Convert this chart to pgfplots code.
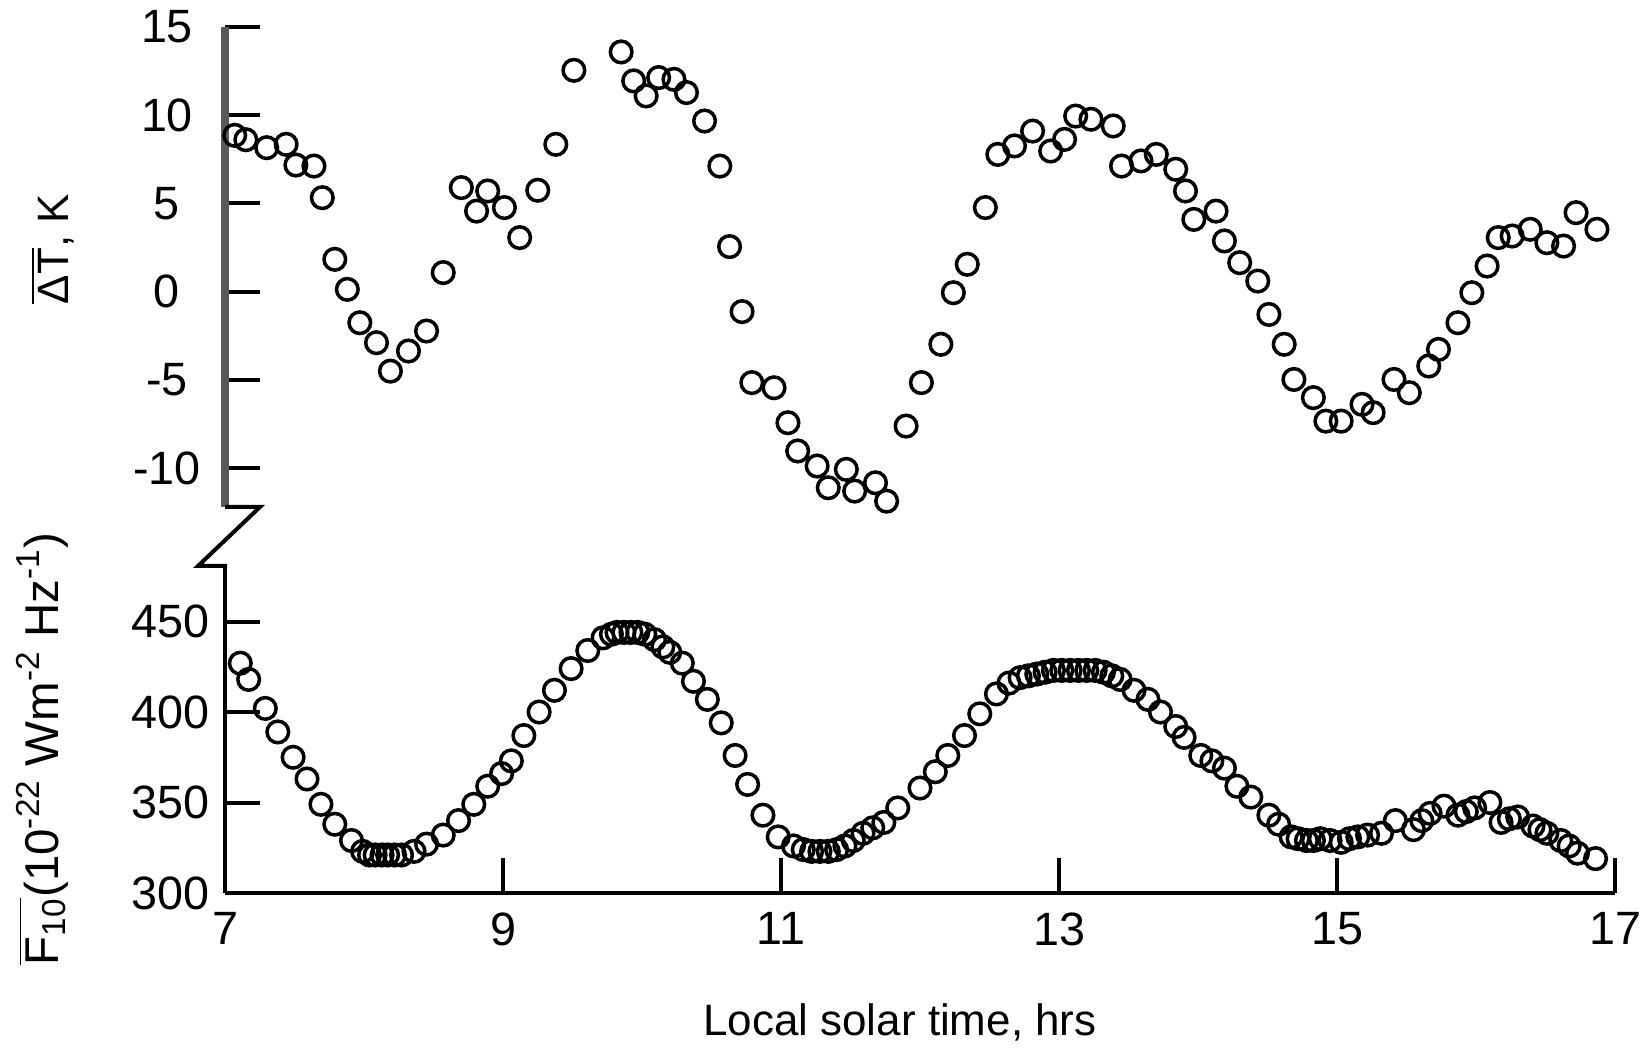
\documentclass[border=0pt]{standalone}
\usepackage{fontspec}
\setmainfont{Liberation Sans}
\usepackage{pgfplots}
\pgfplotsset{compat=1.18}
\usepackage{pgfplotstable}

\pgfplotstableread{
h v
7.07 8.85
7.15 8.60
7.30 8.15
7.44 8.34
7.51 7.17
7.64 7.11
7.70 5.32
7.79 1.83
7.88 0.13
7.97 -1.76
8.09 -2.89
8.19 -4.50
8.32 -3.36
8.45 -2.23
8.57 1.08
8.70 5.89
8.81 4.56
8.89 5.70
9.01 4.76
9.12 3.06
9.25 5.74
9.38 8.34
9.51 12.53
9.85 13.57
9.94 11.93
10.03 11.08
10.12 12.12
10.23 12.02
10.32 11.27
10.45 9.66
10.56 7.11
10.63 2.55
10.72 -1.13
10.79 -5.15
10.95 -5.44
11.05 -7.42
11.12 -9.02
11.26 -9.87
11.34 -11.10
11.47 -10.06
11.53 -11.29
11.68 -10.82
11.76 -11.86
11.90 -7.61
12.01 -5.15
12.15 -2.98
12.24 -0.06
12.34 1.55
12.47 4.76
12.56 7.77
12.68 8.25
12.81 9.09
12.94 7.96
13.04 8.62
13.12 9.94
13.23 9.76
13.39 9.38
13.45 7.11
13.59 7.40
13.70 7.77
13.84 6.93
13.91 5.70
13.97 4.09
14.13 4.56
14.19 2.87
14.30 1.64
14.43 0.60
14.51 -1.29
14.62 -2.98
14.69 -4.97
14.83 -6.00
14.92 -7.33
15.03 -7.33
15.18 -6.38
15.26 -6.85
15.41 -4.97
15.52 -5.72
15.66 -4.21
15.73 -3.27
15.87 -1.76
15.97 -0.06
16.08 1.45
16.16 3.06
16.26 3.15
16.39 3.53
16.51 2.77
16.63 2.58
16.72 4.47
16.87 3.53
}\dTdata

\pgfplotstableread{
h v
7.11 427
7.17 418
7.29 402
7.38 389
7.49 375
7.59 363
7.69 349
7.79 338
7.91 329
7.99 323
8.04 321
8.08 321
8.13 321
8.17 321
8.22 321
8.27 321
8.36 323
8.45 327
8.57 332
8.68 340
8.79 349
8.89 359
8.99 366
9.06 373
9.15 387
9.26 400
9.37 412
9.49 424
9.61 434
9.72 441
9.78 443
9.82 444
9.87 444
9.92 444
9.97 444
10.02 443
10.09 440
10.15 436
10.20 433
10.29 427
10.37 417
10.47 407
10.57 394
10.67 376
10.76 360
10.87 343
10.98 331
11.09 326
11.16 324
11.22 323
11.28 323
11.34 323
11.40 324
11.46 326
11.52 329
11.59 333
11.66 336
11.74 339
11.84 347
12.00 358
12.11 367
12.20 376
12.32 387
12.43 399
12.55 410
12.64 416
12.72 419
12.78 420
12.84 421
12.90 422
12.96 423
13.02 423
13.08 423
13.14 423
13.20 423
13.26 423
13.32 422
13.38 420
13.44 418
13.54 412
13.64 407
13.73 400
13.84 392
13.90 386
14.02 376
14.10 373
14.19 369
14.28 359
14.38 353
14.51 343
14.58 338
14.67 331
14.72 330
14.78 329
14.83 329
14.88 330
14.95 329
15.03 328
15.09 330
15.15 331
15.22 332
15.32 333
15.42 340
15.55 335
15.61 340
15.67 344
15.77 348
15.87 343
15.93 345
15.99 347
16.10 350
16.18 339
16.24 341
16.30 342
16.41 337
16.46 335
16.51 333
16.61 329
16.67 326
16.73 322
16.86 319
}\Fdata

\begin{document}
\begin{tikzpicture}
\useasboundingbox (0,0) rectangle (163.9mm,104.8mm);
\pgfplotsset{
  every axis/.append style={
    scale only axis, width=139mm, xmin=7, xmax=17, clip=false,
    major tick length=3.5mm,
    every tick/.append style={black, line width=0.4mm},
    /pgf/number format/assume math mode=true,
    tick label style={font=\fontsize{13.3}{16}\selectfont},
    yticklabel style={anchor=east, inner sep=0pt, xshift=-1.5mm},
    xticklabel style={anchor=north, inner sep=0pt, yshift=-1.9mm},
    label style={font=\fontsize{12.5}{15}\selectfont, inner sep=0pt},
  },
}
% top axis: Delta T
\begin{axis}[
  at={(22.5mm,54.1mm)}, anchor=south west,
  height=48.03mm, ymin=-12.19, ymax=15,
  axis x line=none, axis y line*=left, tick align=inside,
  y axis line style={line width=0.85mm, black!65},
  ytick={-10,-5,0,5,10,15},
  yticklabel style={anchor=center, xshift=-4.3mm},
  ylabel={$\overline{\mbox{ΔT}}$, K},
  ylabel style={at={(axis description cs:-0.1129,0.537)}, anchor=base},
]
\addplot[only marks, mark=o, mark size=1.08mm, mark options={line width=0.35mm, black}] table[x=h, y=v] {\dTdata};
\end{axis}
% bottom axis: F10
\begin{axis}[
  at={(22.5mm,15.5mm)}, anchor=south west,
  height=32.7mm, ymin=300, ymax=480.7,
  axis x line*=bottom, axis y line*=left, tick align=inside,
  axis line style={line width=0.4mm, black},
  xtick={7,9,11,13,15,17}, ytick={300,350,400,450},
  xlabel={Local solar time, hrs},
  xlabel style={at={(axis description cs:0.4856,-0.4373)}, anchor=base},
  ylabel={$\overline{\mbox{F\textsubscript{10}}}$(10\textsuperscript{-22} Wm\textsuperscript{-2} Hz\textsuperscript{-1})},
  ylabel style={at={(axis description cs:-0.1201,-0.2232)}, anchor=base west, font=\fontsize{13.5}{16}\selectfont},
]
\addplot[only marks, mark=o, mark size=1.08mm, mark options={line width=0.35mm, black}] table[x=h, y=v] {\Fdata};
\end{axis}
\draw[line width=0.4mm, line join=miter] (22.5mm,54.1mm) -- (26.0mm,54.1mm) -- (19.8mm,48.2mm) -- (22.7mm,48.2mm);
\end{tikzpicture}
\end{document}
